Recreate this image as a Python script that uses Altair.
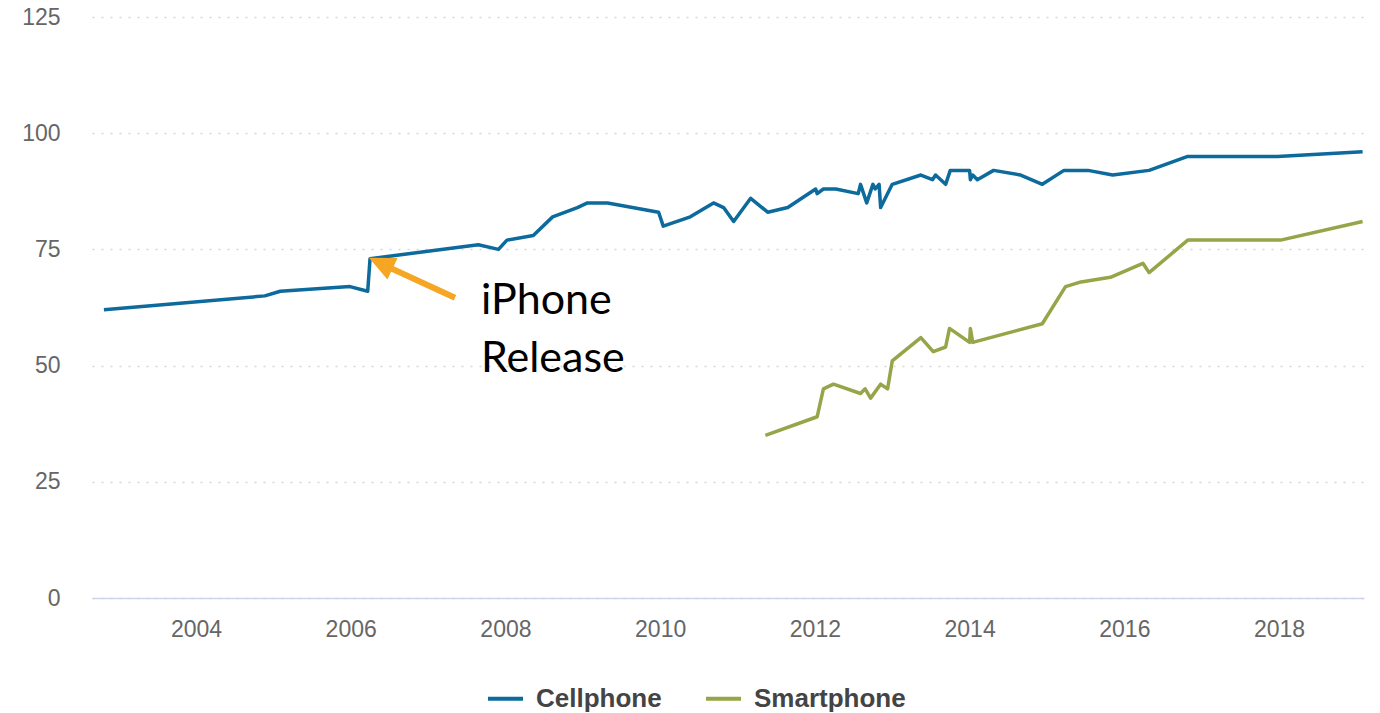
import altair as alt
import pandas as pd

# ---- data ----
cell_year = [2002.81, 2004.89, 2005.09, 2005.99, 2006.22, 2006.25, 2007.65, 2007.91,
             2008.02, 2008.36, 2008.61, 2008.93, 2009.06, 2009.32, 2009.98, 2010.04,
             2010.39, 2010.69, 2010.82, 2010.95, 2011.17, 2011.39, 2011.65, 2012.01,
             2012.03, 2012.11, 2012.27, 2012.56, 2012.59, 2012.67, 2012.75, 2012.78,
             2012.83, 2012.85, 2013.00, 2013.37, 2013.52, 2013.56, 2013.69, 2013.75,
             2014.00, 2014.01, 2014.04, 2014.10, 2014.31, 2014.66, 2014.94, 2015.22,
             2015.53, 2015.85, 2016.32, 2016.82, 2017.98, 2019.08]
cell_val = [62, 65, 66, 67, 66, 73, 76, 75,
            77, 78, 82, 84, 85, 85, 83, 80,
            82, 85, 84, 81, 86, 83, 84, 88,
            87, 88, 88, 87, 89, 85, 89, 88,
            89, 84, 89, 91, 90, 91, 89, 92,
            92, 90, 91, 90, 92, 91, 89, 92,
            92, 91, 92, 95, 95, 96]

smart_year = [2011.36, 2012.03, 2012.11, 2012.24, 2012.59, 2012.65, 2012.72, 2012.85,
              2012.94, 2013.00, 2013.37, 2013.53, 2013.69, 2013.74, 2014.00, 2014.01,
              2014.04, 2014.94, 2015.24, 2015.44, 2015.82, 2016.24, 2016.32, 2016.82,
              2018.02, 2019.08]
smart_val = [35, 39, 45, 46, 44, 45, 43, 46,
             45, 51, 56, 53, 54, 58, 55, 58,
             55, 59, 67, 68, 69, 72, 70, 77,
             77, 81]

series_names = ["Cellphone", "Smartphone"]
series_colors = ["#0c6a9c", "#97a448"]

x_ticks = [2004, 2006, 2008, 2010, 2012, 2014, 2016, 2018]
y_ticks = [0, 25, 50, 75, 100, 125]

# annotation (data coordinates)
arrow_tip = (2006.236, 73.2)
arrow_tail = (2007.348, 64.6)
arrow_shaft_end = (2006.45, 71.5)
note_pos = (2007.684, 61.15)
note_text = ["iPhone", "Release"]

df = pd.concat([
    pd.DataFrame({"year": cell_year, "value": cell_val, "series": series_names[0]}),
    pd.DataFrame({"year": smart_year, "value": smart_val, "series": series_names[1]}),
])

xscale = alt.Scale(domain=[2002.656, 2019.098], nice=False, zero=False)
yscale = alt.Scale(domain=[0, 125], nice=False)

lines = alt.Chart(df).mark_line(strokeWidth=3.5, strokeJoin="round").encode(
    x=alt.X("year:Q", scale=xscale,
            axis=alt.Axis(values=x_ticks, format="d", title=None, grid=False,
                          ticks=False, domainColor="#ccd6eb", domainWidth=1.5,
                          labelFontSize=23, labelColor="#666666",
                          labelFont="Liberation Sans", labelPadding=20)),
    y=alt.Y("value:Q", scale=yscale,
            axis=alt.Axis(values=y_ticks, title=None, domain=False, ticks=False,
                          grid=True, gridDash=[2, 7], gridColor="#d6d6d6",
                          gridWidth=1.5, labelFontSize=23, labelColor="#666666",
                          labelFont="Liberation Sans", labelPadding=32)),
    color=alt.Color("series:N",
                    scale=alt.Scale(domain=series_names, range=series_colors),
                    legend=alt.Legend(title=None, orient="none", legendX=394,
                                      legendY=662, direction="horizontal",
                                      symbolType="stroke", symbolSize=1225,
                                      symbolStrokeWidth=4, labelFontSize=26,
                                      labelFont="Liberation Sans",
                                      labelFontWeight="bold", labelColor="#444444",
                                      labelOffset=11, columnPadding=36, padding=0)),
    order=alt.Order("year:Q"),
)

shaft_df = pd.DataFrame({"x": [arrow_tail[0]], "y": [arrow_tail[1]],
                         "x2": [arrow_shaft_end[0]], "y2": [arrow_shaft_end[1]]})
shaft = alt.Chart(shaft_df).mark_rule(color="#f5a623", strokeWidth=6).encode(
    x=alt.X("x:Q", scale=xscale), y=alt.Y("y:Q", scale=yscale),
    x2="x2:Q", y2="y2:Q")

head_df = pd.DataFrame({"x": [arrow_tip[0]], "y": [arrow_tip[1]]})
head = alt.Chart(head_df).mark_point(
    shape="M0,0 L-0.46,1 L0.46,1 Z", filled=True, opacity=1,
    color="#f5a623", size=2704, angle=295).encode(
    x=alt.X("x:Q", scale=xscale), y=alt.Y("y:Q", scale=yscale))

note_df = pd.DataFrame({"x": [note_pos[0]], "y": [note_pos[1]],
                        "t": ["\n".join(note_text)]})
note = alt.Chart(note_df).mark_text(
    align="left", baseline="alphabetic", font="Lato", fontSize=43,
    lineHeight=58, lineBreak="\n", color="#000000").encode(
    x=alt.X("x:Q", scale=xscale), y=alt.Y("y:Q", scale=yscale), text="t:N")

chart = alt.layer(lines, shaft, head, note).properties(
    width=1272, height=581,
    autosize=alt.AutoSizeParams(type="none"),
    padding={"left": 92, "top": 17, "right": 16, "bottom": 115},
    background="white",
).configure_view(stroke=None)

chart.save("out.html", embed_options={"renderer": "svg", "actions": False})
